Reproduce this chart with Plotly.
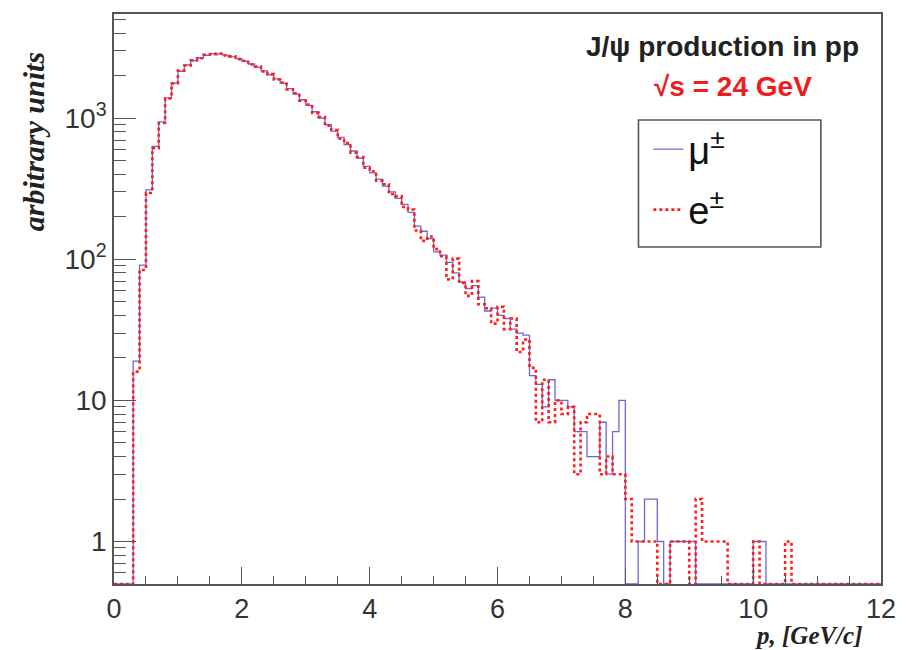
import numpy as np
import plotly.graph_objects as go

# Momentum histogram of J/psi decay leptons, 0.1 GeV/c bins from 0 to 12 GeV/c
bin_width = 0.1
n_bins = 120

mu_counts = [
    0, 0, 0, 19, 91, 310, 630, 940, 1390, 1770,            # 0.0 - 0.9
    2150, 2380, 2550, 2680, 2790, 2860, 2850, 2800, 2720, 2640,  # 1.0 - 1.9
    2530, 2420, 2300, 2160, 2030, 1900, 1770, 1620, 1480, 1350,  # 2.0 - 2.9
    1230, 1110, 1000, 900, 810, 730, 650, 585, 520, 455,   # 3.0 - 3.9
    410, 370, 330, 300, 270, 245, 215, 172, 158, 140,      # 4.0 - 4.9
    113, 107, 95, 80, 69, 62, 65, 54, 43, 45,              # 5.0 - 5.9
    40, 38, 32, 30, 29, 15, 13, 9, 14, 10,                 # 6.0 - 6.9
    10, 9, 6, 6, 4, 4, 7, 3, 6, 10,                        # 7.0 - 7.9
    0, 0, 1, 2, 2, 1, 0, 1, 1, 1,                          # 8.0 - 8.9
    1, 0, 0, 0, 0, 0, 0, 0, 0, 0,                          # 9.0 - 9.9
    1, 1, 0, 0, 0, 0, 0, 0, 0, 0,                          # 10.0 - 10.9
    0, 0, 0, 0, 0, 0, 0, 0, 0, 0,                          # 11.0 - 11.9
]

e_counts = [
    0, 0, 0, 16, 84, 295, 612, 925, 1380, 1760,
    2170, 2360, 2570, 2660, 2810, 2840, 2870, 2780, 2740, 2620,
    2550, 2400, 2320, 2140, 2050, 1880, 1790, 1600, 1500, 1330,
    1250, 1090, 1020, 885, 825, 715, 665, 570, 530, 445,
    420, 360, 340, 290, 280, 235, 225, 160, 135, 145,
    118, 105, 72, 101, 68, 55, 70, 48, 45, 35,
    46, 32, 38, 22, 27, 17, 7, 14, 7, 10,
    8, 9, 3, 7, 8, 8, 3, 4, 3, 3,
    2, 1, 1, 1, 1, 0, 0, 1, 1, 1,
    0, 2, 1, 1, 1, 1, 0, 0, 0, 0,
    1, 0, 0, 0, 0, 1, 0, 0, 0, 0,
    0, 0, 0, 0, 0, 0, 0, 0, 0, 0,
]

x_ticks = [0, 2, 4, 6, 8, 10, 12]
y_ticks = [1, 10, 100, 1000]
y_tick_text = ["1", "10", "10<sup>2</sup>", "10<sup>3</sup>"]

y_min, y_max = 0.5, 5470.0
edges = np.round(np.arange(n_bins + 1) * bin_width, 2)


def outline(counts):
    """Step outline of a histogram; empty bins sit on the axis floor."""
    y = [c if c > 0 else y_min for c in counts]
    return list(edges), y + [y[-1]]


fig = go.Figure()

mx, my = outline(mu_counts)
fig.add_trace(go.Scatter(
    x=mx, y=my, mode="lines", line_shape="hv",
    line=dict(color="#6a6ad0", width=1.3),
    name="μ<sup>±</sup>", legendgroup="mu",
))

ex, ey = outline(e_counts)
fig.add_trace(go.Scatter(
    x=ex, y=ey, mode="lines", line_shape="hv",
    line=dict(color="#ff1e1e", width=2.6, dash="3px,3px"),
    name="e<sup>±</sup>", legendgroup="e",
))

# minor ticks for the log axis: 2..9 in every decade
minor_y = [m * 10 ** d for d in range(-1, 4) for m in range(2, 10)]
minor_y = [v for v in minor_y if y_min < v < y_max]

L, R, T, B = 114, 16, 14, 66
W, H = 908 - L - R, 650 - T - B


def px(xp):
    return (xp - L) / W


def py(yp):
    return (650 - B - yp) / H


axis_color = "#555555"
sans = "Liberation Sans, Arial, sans-serif"
serif = "Liberation Serif, Times New Roman, serif"

fig.update_layout(
    width=908, height=650,
    margin=dict(l=L, r=R, t=T, b=B),
    paper_bgcolor="white", plot_bgcolor="white",
    showlegend=True,
    legend=dict(
        x=px(656), y=py(118), xanchor="left", yanchor="top",
        bgcolor="rgba(0,0,0,0)", borderwidth=0,
        font=dict(family=sans, size=38, color="#111"),
        tracegroupgap=8, itemwidth=30,
    ),
    xaxis=dict(
        range=[0, 12], tickvals=x_ticks, ticks="inside", ticklen=17,
        tickwidth=1.3, tickcolor=axis_color,
        showline=True, linecolor=axis_color, linewidth=1.6, mirror=True,
        showgrid=False, zeroline=False,
        tickfont=dict(family=sans, size=27, color="#333"),
        minor=dict(dtick=0.5, tick0=0, ticks="inside", ticklen=8,
                   tickwidth=1.2, tickcolor=axis_color, showgrid=False),
    ),
    yaxis=dict(
        type="log", range=[np.log10(y_min), np.log10(y_max)],
        tickvals=y_ticks, ticktext=y_tick_text,
        ticks="inside", ticklen=22, tickwidth=1.3, tickcolor=axis_color,
        showline=True, linecolor=axis_color, linewidth=1.6, mirror=True,
        showgrid=False, zeroline=False,
        tickfont=dict(family=sans, size=28, color="#333"),
        minor=dict(tickvals=minor_y, ticks="inside", ticklen=12,
                   tickwidth=1.2, tickcolor=axis_color, showgrid=False),
    ),
)

# legend frame
fig.add_shape(type="rect", xref="paper", yref="paper",
              x0=px(646), x1=px(831), y0=py(247), y1=py(120),
              line=dict(color="#555", width=1.6), fillcolor="rgba(0,0,0,0)")

fig.add_annotation(
    text="<b>J/ψ production in pp</b>", xref="paper", yref="paper",
    x=px(872), y=py(47), xanchor="right", yanchor="middle", showarrow=False,
    font=dict(family=sans, size=28, color="#222"),
)
fig.add_annotation(
    text="<b>√s = 24 GeV</b>", xref="paper", yref="paper",
    x=px(742), y=py(87), xanchor="center", yanchor="middle", showarrow=False,
    font=dict(family=sans, size=28, color="#ee1c1c"),
)
fig.add_annotation(
    text="<b><i>arbitrary units</i></b>", xref="paper", yref="paper",
    x=px(32), y=py(142), xanchor="center", yanchor="middle", showarrow=False,
    textangle=-90, font=dict(family=serif, size=30, color="#222"),
)
fig.add_annotation(
    text="<b><i>p, [GeV/c]</i></b>", xref="paper", yref="paper",
    x=px(876), y=py(635), xanchor="right", yanchor="middle", showarrow=False,
    font=dict(family=serif, size=25, color="#222"),
)

fig.write_html("out.html")
